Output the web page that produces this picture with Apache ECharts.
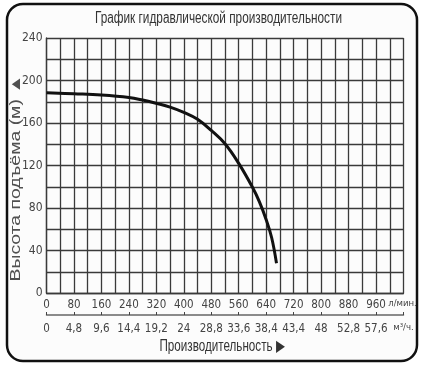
<!DOCTYPE html>
<html><head><meta charset="utf-8">
<script src="https://cdn.jsdelivr.net/npm/echarts@6/dist/echarts.min.js"></script>
<style>html,body{margin:0;padding:0;background:#fff}#c{width:425px;height:371px}</style>
</head><body><div id="c"></div>
<script>
const titleText = 'График гидравлической производительности';
const yName = 'Высота подъёма (м) ▲';
const xName = 'Производительность ▶';
const flowLabels = ['0','80','160','240','320','400','480','560','640','720','800','880','960','л/мин.'];
const m3hLabels = ['0','4,8','9,6','14,4','19,2','24','28,8','33,6','38,4','43,4','48','52,8','57,6','м³/ч.'];
const flow = [0, 80, 160, 240, 280, 320, 360, 400, 440, 480, 520, 560, 600, 620, 640, 656, 670];
const head = [188.5, 187.5, 186.3, 184, 181.6, 178.5, 175, 170, 163.5, 153, 140.5, 122, 99.5, 86, 69, 52, 28];

const FONT = '"DejaVu Sans Condensed","Liberation Sans",sans-serif';
const TFONT = '"Liberation Sans","Arial",sans-serif';
const ctx = document.createElement('canvas').getContext('2d');
function fitScale(text, font, target){ ctx.font = font; return target / ctx.measureText(text).width; }
const titleFont = '16px ' + TFONT;
const xNameFont = '16px ' + TFONT;
const yNameFont = '14px ' + TFONT;

const chart = echarts.init(document.getElementById('c'), null, {renderer:'canvas'});
const gridColor = '#3a3a3a';
function lbl(arr){ return v => { const i = Math.round(v/80); const s = arr[i]; return i === arr.length-1 ? '{u|'+s+'}' : s; }; }
chart.setOption({
  animation:false,
  backgroundColor:'#ffffff',
  graphic:[
    {type:'rect', shape:{x:7,y:4,width:410,height:357,r:16}, style:{fill:'#fcfcfc',stroke:'#111',lineWidth:2.5}, z:-10},
    {type:'text', x:218.5, y:19, scaleX:fitScale(titleText, titleFont, 247), style:{text:titleText, font:titleFont, fill:'#333', align:'center', verticalAlign:'middle'}},
    {type:'text', x:16.5, y:178, rotation:Math.PI/2, scaleX:fitScale(yName, yNameFont, 207), style:{text:yName, font:yNameFont, fill:'#505050', align:'center', verticalAlign:'middle'}},
    {type:'text', x:222, y:347, scaleX:fitScale(xName, xNameFont, 125), style:{text:xName, font:xNameFont, fill:'#333', align:'center', verticalAlign:'middle'}}
  ],
  grid:{left:46.5, right:21.5, top:38, bottom:78, containLabel:false},
  xAxis:[
    {type:'value', min:0, max:1040, interval:80, position:'bottom',
     axisLine:{show:true, lineStyle:{color:gridColor, width:1.3}},
     axisTick:{show:false},
     axisLabel:{margin:6, fontSize:11.5, fontFamily:FONT, color:'#444', showMaxLabel:true, showMinLabel:true, hideOverlap:false,
       formatter:lbl(flowLabels), rich:{u:{fontSize:9.5, fontFamily:FONT, color:'#444', padding:[0,2,0,0]}}},
     splitLine:{show:true, lineStyle:{color:gridColor, width:1.3}},
     minorTick:{show:false, splitNumber:2},
     minorSplitLine:{show:true, lineStyle:{color:gridColor, width:1.3}}},
    {type:'value', min:0, max:1040, interval:80, position:'bottom', offset:22,
     axisLine:{show:true, lineStyle:{color:'#666', width:1.5}},
     axisTick:{show:true, inside:true, length:3, lineStyle:{color:'#444'}},
     axisLabel:{margin:8, fontSize:11.5, fontFamily:FONT, color:'#444', showMaxLabel:true, showMinLabel:true, hideOverlap:false,
       formatter:lbl(m3hLabels), rich:{u:{fontSize:9.5, fontFamily:FONT, color:'#444'}}},
     splitLine:{show:false}}
  ],
  yAxis:{type:'value', min:0, max:240, interval:40,
     axisLine:{show:true, lineStyle:{color:gridColor, width:1.3}},
     axisTick:{show:false},
     axisLabel:{margin:4, fontSize:12, fontFamily:FONT, color:'#444'},
     splitLine:{show:true, lineStyle:{color:gridColor, width:1.3}},
     minorTick:{show:false, splitNumber:2},
     minorSplitLine:{show:true, lineStyle:{color:gridColor, width:1.3}}},
  series:[{type:'line', xAxisIndex:0, data: flow.map((f,i)=>[f, head[i]]), smooth:0.4, symbol:'none',
     lineStyle:{color:'#111', width:3}}]
});
</script></body></html>
